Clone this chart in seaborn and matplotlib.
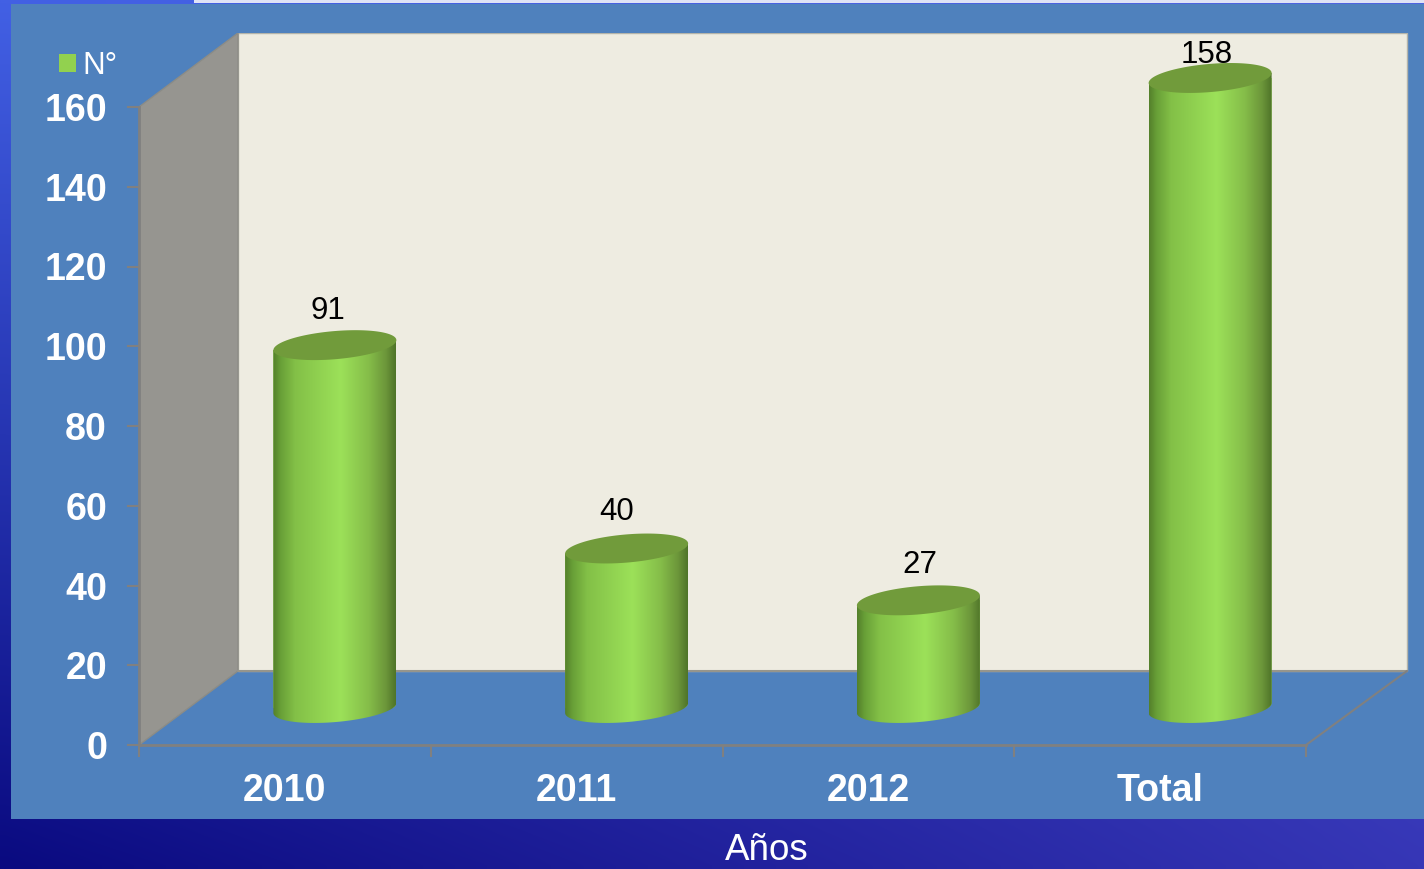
import numpy as np
import pandas as pd
import seaborn as sns
import matplotlib.pyplot as plt
from matplotlib.colors import LinearSegmentedColormap
from matplotlib.patches import Patch, Polygon, Rectangle

categories = ["2010", "2011", "2012", "Total"]
values = [91, 40, 27, 158]
y_ticks = [0, 20, 40, 60, 80, 100, 120, 140, 160]
series_name = "N°"
x_title = "Años"

# pixel nudges of the value labels, from the picture
label_dx = [-7, -10, 1, -3]
label_dy = [34, 37, 35, 23]

W, H = 1424, 869
LEFT, RIGHT, TOP, BOTTOM = 139, 1409, 33, 745
PX_X = 291.75   # pixels per category
PX_Y = 3.9875   # pixels per count
DEPTH_X = 99 / PX_X
DEPTH_Y = 74 / PX_Y

GRAY = "#808080"
PANEL = "#4f81bd"

sns.set_theme(style="white")
plt.rcParams["font.family"] = ["Liberation Sans", "DejaVu Sans"]

fig = plt.figure(figsize=(W / 100, H / 100), dpi=100)

# slide background
bg = fig.add_axes([0, 0, 1, 1])
tl, tr = np.array([66, 96, 228]), np.array([80, 100, 225])
bl, br = np.array([10, 10, 128]), np.array([54, 54, 182])
xx, yy = np.meshgrid(np.linspace(0, 1, 128), np.linspace(0, 1, 128))
grad = (tl[None, None] * ((1 - xx) * (1 - yy))[..., None]
        + tr[None, None] * (xx * (1 - yy))[..., None]
        + bl[None, None] * ((1 - xx) * yy)[..., None]
        + br[None, None] * (xx * yy)[..., None]) / 255
bg.imshow(grad, extent=[0, W, H, 0], aspect="auto", interpolation="bilinear")
bg.add_patch(Rectangle((194, 0), W - 194, 3, color="#dfe3f5", lw=0))
bg.add_patch(Rectangle((11, 3.5), W - 11, 815.5, color=PANEL, lw=0))
bg.set_xlim(0, W)
bg.set_ylim(H, 0)
bg.axis("off")

# main axes spans the whole 3d box, the front plane starts at bottom left
ax = fig.add_axes([LEFT / W, 1 - BOTTOM / H, (RIGHT - LEFT) / W, (BOTTOM - TOP) / H])
ax.patch.set_alpha(0)

df = pd.DataFrame({"year": categories, "n": values})
sns.barplot(data=df, x="year", y="n", width=123 / PX_X, color="#92d14f",
            saturation=1, ax=ax, zorder=4)

xmin = -0.5
xmax = xmin + (RIGHT - LEFT) / PX_X
ymax = (BOTTOM - TOP) / PX_Y
x_end = xmin + len(categories)
wall_end = x_end + DEPTH_X + 2 / PX_X

# walls and floor
ax.add_patch(Rectangle((xmin + DEPTH_X, DEPTH_Y), wall_end - xmin - DEPTH_X, y_ticks[-1],
                       facecolor="#eeece1", edgecolor="#b4b4aa", lw=1, zorder=1))
ax.add_patch(Polygon([(xmin, 0), (xmin + DEPTH_X, DEPTH_Y),
                      (xmin + DEPTH_X, DEPTH_Y + y_ticks[-1]), (xmin, y_ticks[-1])],
                     facecolor="#969590", edgecolor="#8c8c86", lw=1, zorder=2))
ax.plot([xmin + DEPTH_X, wall_end], [DEPTH_Y, DEPTH_Y], color="#96958c", lw=1.5, zorder=2)
ax.plot([x_end, wall_end], [0, DEPTH_Y], color=GRAY, lw=1.5, zorder=2)

# cylinders
body_cmap = LinearSegmentedColormap.from_list(
    "body", [(0, "#54802b"), (0.06, "#689f37"), (0.18, "#83c047"), (0.55, "#9ce159"),
             (0.78, "#85bd49"), (0.92, "#6c963a"), (1, "#4f7429")])
off_x = 50 / PX_X
off_y = 37 / PX_Y
rim_b = 14.1 / PX_Y
rim_c = 5 / PX_Y
t = np.linspace(np.pi, 2 * np.pi, 60)
t_all = np.linspace(0, 2 * np.pi, 120)

for i, p in enumerate(ax.patches[:len(values)]):
    v = p.get_height()
    x0 = p.get_x() + off_x
    w = p.get_width()
    cx = x0 + w / 2
    base = off_y
    top = off_y + v
    arc_x = cx + w / 2 * np.cos(t)
    arc_y = base + rim_b * np.sin(t) + rim_c * np.cos(t)
    verts = list(zip(arc_x, arc_y)) + [(x0 + w, top + rim_c), (x0, top - rim_c)]
    body = Polygon(verts, closed=True, transform=ax.transData, facecolor="none", lw=0)
    ax.add_patch(body)

    p.set_x(x0)
    p.set_y(base)
    p.set_linewidth(0)
    p.set_clip_path(body)

    im = ax.imshow(np.linspace(0, 1, 256)[None, :], cmap=body_cmap, aspect="auto",
                   extent=[x0, x0 + w, base - rim_b * 1.2, top + rim_c],
                   interpolation="bilinear", zorder=5)
    im.set_clip_path(body)

    lid_x = cx + w / 2 * np.cos(t_all)
    lid_y = top + rim_b * np.sin(t_all) + rim_c * np.cos(t_all)
    ax.fill(lid_x, lid_y, color="#719b3b", lw=0, zorder=6)

    ax.annotate(str(values[i]), (i + off_x, top), xytext=(label_dx[i] * 0.72, label_dy[i] * 0.72),
                textcoords="offset points", ha="center", va="center",
                fontsize=22.5, color="black", zorder=7)

ax.set_xlim(xmin, xmax)
ax.set_ylim(0, ymax)

# axes, ticks
for side in ["top", "right"]:
    ax.spines[side].set_visible(False)
for side in ["left", "bottom"]:
    ax.spines[side].set_color(GRAY)
    ax.spines[side].set_linewidth(2)
ax.spines["left"].set_bounds(0, y_ticks[-1])
ax.spines["bottom"].set_bounds(xmin, x_end)
ax.spines["left"].set_zorder(3)

ax.set_yticks(y_ticks)
ax.set_xticks(np.arange(xmin, x_end + 0.1, 1))
ax.set_xticklabels([])
ax.set_xticks(range(len(categories)), categories, minor=True)
ax.tick_params(axis="x", which="major", length=8.6, width=1.5, color=GRAY, bottom=True)
ax.tick_params(axis="x", which="minor", length=0, pad=20.5, labelsize=27, labelcolor="white", bottom=True)
ax.tick_params(axis="y", length=8.6, width=1.5, color=GRAY, pad=14.5, labelsize=27, labelcolor="white", left=True)
for lab in ax.get_xticklabels(minor=True) + ax.get_yticklabels():
    lab.set_fontweight("bold")

ax.set_ylabel("")
ax.set_xlabel(x_title, fontsize=26.5, color="white")
ax.xaxis.set_label_coords(767 / W, 1 - 850.5 / H, transform=fig.transFigure)
ax.xaxis.label.set_va("center")

leg = ax.legend(handles=[Patch(facecolor="#92d14f", lw=0, label=series_name)],
                loc="center left", bbox_to_anchor=(59 / W, 1 - 66 / H),
                bbox_transform=fig.transFigure, frameon=False, fontsize=22.5,
                handlelength=0.55, handleheight=0.55, handletextpad=0.2, borderaxespad=0, borderpad=0)
for txt in leg.get_texts():
    txt.set_color("white")

fig.savefig("out.png", dpi=100)
